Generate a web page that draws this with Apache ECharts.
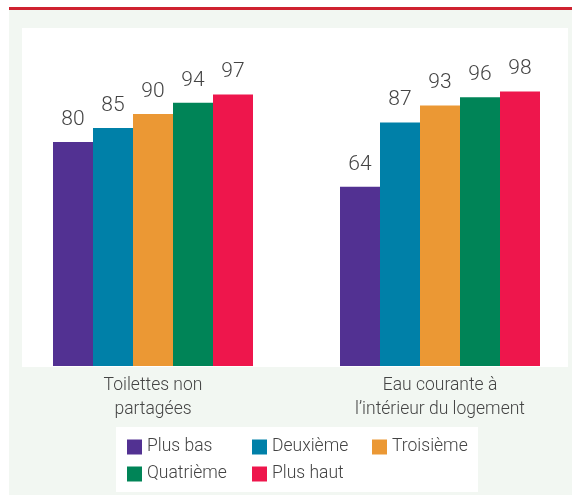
<!DOCTYPE html>
<html><head><meta charset="utf-8">
<script src="https://cdn.jsdelivr.net/npm/echarts@6/dist/echarts.min.js"></script>
<style>html,body{margin:0;padding:0;background:#fff}#c{width:572px;height:495px}</style>
</head><body><div id="c"></div>
<script>
const categories = ['Toilettes non\npartagées', 'Eau courante à\nl’intérieur du logement'];
const seriesNames = ['Plus bas', 'Deuxième', 'Troisième', 'Quatrième', 'Plus haut'];
const plusBas = [80, 64];
const deuxieme = [85, 87];
const troisieme = [90, 93];
const quatrieme = [94, 96];
const plusHaut = [97, 98];
const colors = ['#523192', '#0080a8', '#eb9834', '#008457', '#ee164c'];
const values = [plusBas, deuxieme, troisieme, quatrieme, plusHaut];

const FONT = 'Roboto, sans-serif';
const chart = echarts.init(document.getElementById('c'), null, {renderer: 'canvas'});
const legendPos = [[127, 438], [252, 438], [372, 438], [127, 465], [252, 465]];
chart.setOption({
  animation: false,
  textStyle: {fontFamily: FONT, fontWeight: 300},
  graphic: [
    {type: 'rect', z: -10, shape: {x: 9, y: 10, width: 563, height: 485}, style: {fill: '#f2f7f2'}},
    {type: 'rect', z: -10, shape: {x: 9, y: 7, width: 563, height: 3}, style: {fill: '#cf2230'}},
    {type: 'rect', z: -9, shape: {x: 22, y: 28, width: 546, height: 339}, style: {fill: '#ffffff'}},
    {type: 'rect', z: -9, shape: {x: 116, y: 427, width: 362, height: 65}, style: {fill: '#ffffff'}}
  ],
  grid: {left: 9.5, width: 574, top: 30, bottom: 129, containLabel: false, outerBoundsMode: 'none'},
  xAxis: {
    type: 'category', data: categories,
    axisLine: {show: false}, axisTick: {show: false},
    axisLabel: {color: '#444', fontSize: 17.5, fontWeight: 300, lineHeight: 24, margin: 8, fontFamily: FONT}
  },
  yAxis: {type: 'value', min: 0, max: 120, show: false, splitLine: {show: false}},
  legend: seriesNames.map((n, i) => ({
    data: [n], left: legendPos[i][0], top: legendPos[i][1],
    itemWidth: 15, itemHeight: 15, itemGap: 0, icon: 'rect',
    textStyle: {color: '#444', fontSize: 17.5, fontWeight: 300, fontFamily: FONT, padding: [0, 0, 0, 0]},
    padding: 0
  })),
  series: seriesNames.map((n, i) => ({
    name: n, type: 'bar', data: values[i], barWidth: 40, barGap: '0%',
    itemStyle: {color: colors[i]},
    label: {show: true, position: 'top', distance: 12, color: '#444', fontSize: 21, fontWeight: 300, fontFamily: FONT}
  }))
});
</script></body></html>
